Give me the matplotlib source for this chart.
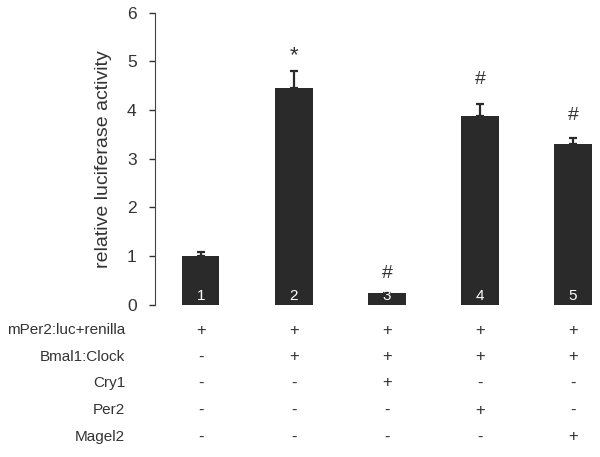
import matplotlib
matplotlib.use("Agg")
import matplotlib.pyplot as plt
import matplotlib.transforms as mtransforms

plt.rcParams['font.family'] = ['Liberation Sans', 'DejaVu Sans']

groups = [1, 2, 3, 4, 5]
values = [1.0, 4.46, 0.25, 3.88, 3.30]
errors = [0.09, 0.34, 0.0, 0.25, 0.13]
marks = ['', '*', '#', '#', '#']
mark_y = [None, 5.12, 0.65, 4.62, 3.88]
row_labels = ['mPer2:luc+renilla', 'Bmal1:Clock', 'Cry1', 'Per2', 'Magel2']
table = [
    ['+', '+', '+', '+', '+'],
    ['-', '+', '+', '+', '+'],
    ['-', '-', '+', '-', '-'],
    ['-', '-', '-', '+', '-'],
    ['-', '-', '-', '-', '+'],
]

fig = plt.figure(figsize=(6.0, 4.57), dpi=100)
ax = fig.add_axes([0.258, 0.333, 0.742, 0.639])
bar_color = '#2a2a2a'
text_color = '#333333'

ax.bar(groups, values, width=0.4, color=bar_color, zorder=2)
ax.errorbar(groups, values, yerr=[[0]*5, errors], fmt='none', ecolor=bar_color,
            elinewidth=1.6, capsize=2.6, capthick=1.6, zorder=3)

for g, lab in zip(groups, groups):
    ax.text(g, 0.03, str(lab), color='white', ha='center', va='bottom', fontsize=11, zorder=4)

for g, m, my in zip(groups, marks, mark_y):
    if m:
        ax.text(g, my, m, ha='center', va='center', fontsize=16 if m == '*' else 14,
                color=text_color)

ax.set_xlim(0.505, 5.29)
ax.set_ylim(0, 6)
ax.set_yticks(range(0, 7))
ax.tick_params(axis='y', direction='out', length=4, width=1, labelsize=12.5, colors=text_color, pad=9)
ax.set_xticks([])
for s in ['top', 'right', 'bottom']:
    ax.spines[s].set_visible(False)
ax.spines['left'].set_color('#444444')
ax.set_ylabel('relative luciferase activity', fontsize=14, color=text_color, labelpad=11)

trans = mtransforms.blended_transform_factory(ax.transData, fig.transFigure)
row_y = [330, 357, 383, 410, 437]
for ry, lab, row in zip(row_y, row_labels, table):
    yf = 1 - ry / 457
    fig.text(125 / 600, yf, lab, ha='right', va='center', fontsize=11, color=text_color)
    for g, sym in zip(groups, row):
        ax.text(g, yf, sym, transform=trans, ha='center', va='center', fontsize=12,
                color=text_color, clip_on=False)

fig.savefig('out.png', dpi=100)
